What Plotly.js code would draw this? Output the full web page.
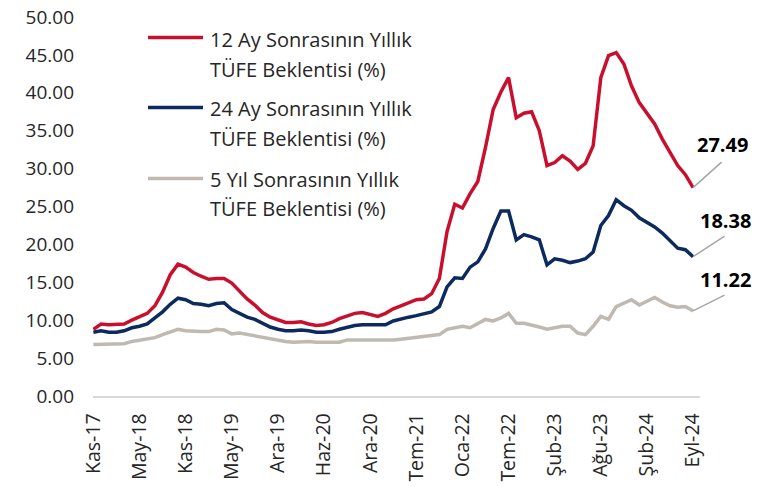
<!DOCTYPE html>
<html>
<head>
<meta charset="utf-8">
<script src="https://cdn.plot.ly/plotly-3.0.1.min.js"></script>
<style>html,body{margin:0;padding:0;background:#fff;}#chart{width:763px;height:487px;}</style>
</head>
<body>
<div id="chart"></div>
<script>
// Category labels (one per survey point)
var months = [
 'Kas-17','Ara-17','Oca-18','Şub-18','Mar-18','Nis-18','May-18','Haz-18','Tem-18','Ağu-18',
 'Eyl-18','Eki-18','Kas-18','Ara-18','Oca-19','Şub-19','Mar-19','Nis-19','May-19','Haz-19',
 'Tem-19','Eyl-19','Eki-19','Kas-19','Ara-19','Oca-20','Şub-20','Mar-20','Nis-20','May-20',
 'Haz-20','Tem-20','Ağu-20','Eyl-20','Eki-20','Kas-20','Ara-20','Oca-21','Şub-21','Nis-21',
 'May-21','Haz-21','Tem-21','Ağu-21','Eyl-21','Eki-21','Kas-21','Ara-21','Oca-22','Şub-22',
 'Mar-22','Nis-22','May-22','Haz-22','Tem-22','Ağu-22','Eyl-22','Kas-22','Ara-22','Oca-23',
 'Şub-23','Mar-23','Nis-23','May-23','Haz-23','Tem-23','Ağu-23','Eyl-23','Eki-23','Kas-23',
 'Ara-23','Oca-24','Şub-24','Mar-24','Nis-24','May-24','Haz-24','Ağu-24','Eyl-24'
];

// Tick labels shown on the x axis
var tickLabels = ['Kas-17','May-18','Kas-18','May-19','Ara-19','Haz-20','Ara-20','Tem-21',
 'Oca-22','Tem-22','Şub-23','Ağu-23','Şub-24','Eyl-24'];

// 12 Ay Sonrasının Yıllık TÜFE Beklentisi (%)
var exp12m = [
 8.8,9.5,9.4,9.4,9.5,10.0,10.4,10.9,11.9,13.7,
 16.0,17.4,17.0,16.3,15.8,15.4,15.5,15.5,14.9,13.9,
 12.8,12.0,11.0,10.4,10.0,9.7,9.7,9.8,9.5,9.3,
 9.4,9.7,10.2,10.6,10.9,11.0,10.7,10.5,10.9,11.5,
 11.9,12.3,12.7,12.8,13.5,15.5,21.7,25.3,24.8,26.7,
 28.3,32.8,37.8,40.1,42.0,36.7,37.3,37.5,35.0,30.4,
 30.8,31.7,31.0,29.9,30.7,33.0,42.0,44.9,45.3,43.8,
 40.9,38.7,37.3,35.9,33.9,32.2,30.4,29.2,27.49
];

// 24 Ay Sonrasının Yıllık TÜFE Beklentisi (%)
var exp24m = [
 8.4,8.6,8.4,8.4,8.6,9.0,9.2,9.5,10.3,11.1,
 12.1,12.9,12.7,12.2,12.1,11.9,12.2,12.3,11.4,10.9,
 10.4,10.1,9.6,9.1,8.8,8.6,8.6,8.7,8.6,8.4,
 8.4,8.5,8.8,9.1,9.3,9.4,9.4,9.3,9.4,9.9,
 10.2,10.4,10.6,10.8,11.1,11.8,14.4,15.6,15.5,17.0,
 17.7,19.4,22.1,24.4,24.4,20.6,21.3,21.0,20.6,17.3,
 18.1,17.9,17.6,17.8,18.1,19.0,22.5,23.8,25.9,25.1,
 24.5,23.5,22.9,22.3,21.5,20.5,19.5,19.3,18.38
];

// 5 Yıl Sonrasının Yıllık TÜFE Beklentisi (%)
var exp5y = [
 6.8,6.8,6.8,6.8,6.9,7.2,7.4,7.5,7.7,8.1,
 8.4,8.8,8.6,8.5,8.5,8.5,8.8,8.7,8.2,8.3,
 8.1,8.0,7.7,7.5,7.4,7.2,7.1,7.2,7.2,7.1,
 7.1,7.1,7.1,7.4,7.4,7.4,7.4,7.4,7.3,7.4,
 7.5,7.6,7.7,7.8,7.9,8.1,8.8,9.0,9.2,9.0,
 9.5,10.1,9.9,10.3,10.9,9.6,9.6,9.4,9.1,8.8,
 9.0,9.2,9.2,8.3,8.1,9.2,10.5,10.1,11.8,12.3,
 12.7,12.0,12.5,13.0,12.4,11.9,11.7,11.8,11.22
];

var seriesNames = [
 ['12 Ay Sonrasının Yıllık', 'TÜFE Beklentisi (%)'],
 ['24 Ay Sonrasının Yıllık', 'TÜFE Beklentisi (%)'],
 ['5 Yıl Sonrasının Yıllık', 'TÜFE Beklentisi (%)']
];
var seriesData = [exp12m, exp24m, exp5y];
var colors = ['#C8102E', '#0D2A5E', '#BFB9B1'];

var FONT = 'Open Sans, Noto Sans, sans-serif';
var TXT = '#262626';

// layout geometry (pixels)
var W = 763, H = 487, ML = 93, MR = 63, MT = 17, MB = 91;
function px(x) { return (x - ML) / (W - ML - MR); }
function py(y) { return (H - MB - y) / (H - MT - MB); }

var traces = seriesData.map(function (vals, i) {
  return {
    type: 'scatter', mode: 'lines', x: months, y: vals,
    name: seriesNames[i].join(' '),
    line: { color: colors[i], width: 3.5 },
    hoverinfo: 'x+y'
  };
});

var annotations = [], shapes = [];

// Legend drawn as text + line samples
var legendLineY = [37.5, 107.5, 178.5];
var legendTextY = [[39, 69.5], [108.5, 138.5], [179, 208.5]];
seriesNames.forEach(function (nm, i) {
  shapes.push({
    type: 'line', xref: 'paper', yref: 'paper',
    x0: px(148), x1: px(203), y0: py(legendLineY[i]), y1: py(legendLineY[i]),
    line: { color: colors[i], width: 3.5 }
  });
  nm.forEach(function (t, j) {
    annotations.push({
      xref: 'paper', yref: 'paper', x: px(208), y: py(legendTextY[i][j]),
      xanchor: 'left', yanchor: 'middle', showarrow: false, text: t,
      font: { family: FONT, size: 20, color: TXT }
    });
  });
});

// End-value labels with leader lines
var last = months.length - 1;
var labelShift = [[29, 43], [32, 36], [32, 31]];
var leaderEnd = [[29, -26], [32, -21], [32, -16]];
seriesData.forEach(function (vals, i) {
  var v = vals[last];
  // leader line: arrow from the last point to a tiny invisible box
  annotations.push({
    xref: 'x', yref: 'y', x: last, y: v,
    ax: leaderEnd[i][0], ay: leaderEnd[i][1],
    showarrow: true, arrowhead: 0, arrowwidth: 1.5, arrowcolor: '#A6A6A6',
    standoff: 0, startstandoff: 0, text: ' ', borderpad: 0,
    font: { size: 1, color: 'rgba(0,0,0,0)' }
  });
  annotations.push({
    xref: 'x', yref: 'y', x: last, y: v,
    xshift: labelShift[i][0], yshift: labelShift[i][1],
    xanchor: 'center', yanchor: 'middle', showarrow: false,
    text: '<b>' + v.toFixed(2) + '</b>',
    font: { family: FONT, size: 20, color: '#000000' }
  });
});

var layout = {
  width: W, height: H,
  margin: { l: ML, r: MR, t: MT, b: MB, pad: 0 },
  paper_bgcolor: '#ffffff', plot_bgcolor: '#ffffff',
  showlegend: false,
  font: { family: FONT, color: TXT },
  xaxis: {
    type: 'category', range: [-0.05, last + 0.9],
    tickmode: 'array', tickvals: tickLabels, ticktext: tickLabels,
    tickangle: -90, ticks: '', showgrid: false, zeroline: false,
    showline: true, linecolor: '#D9D9D9', linewidth: 1.5,
    tickfont: { family: FONT, size: 19.5, color: TXT },
    ticklabelstandoff: 8, fixedrange: true
  },
  yaxis: {
    range: [0, 50], tick0: 0, dtick: 5, tickformat: '.2f',
    ticks: '', showgrid: false, zeroline: false, showline: false,
    tickfont: { family: FONT, size: 19, color: TXT },
    ticklabelstandoff: 18, fixedrange: true
  },
  annotations: annotations,
  shapes: shapes
};

Plotly.newPlot('chart', traces, layout, { displayModeBar: false, staticPlot: true });
</script>
</body>
</html>
